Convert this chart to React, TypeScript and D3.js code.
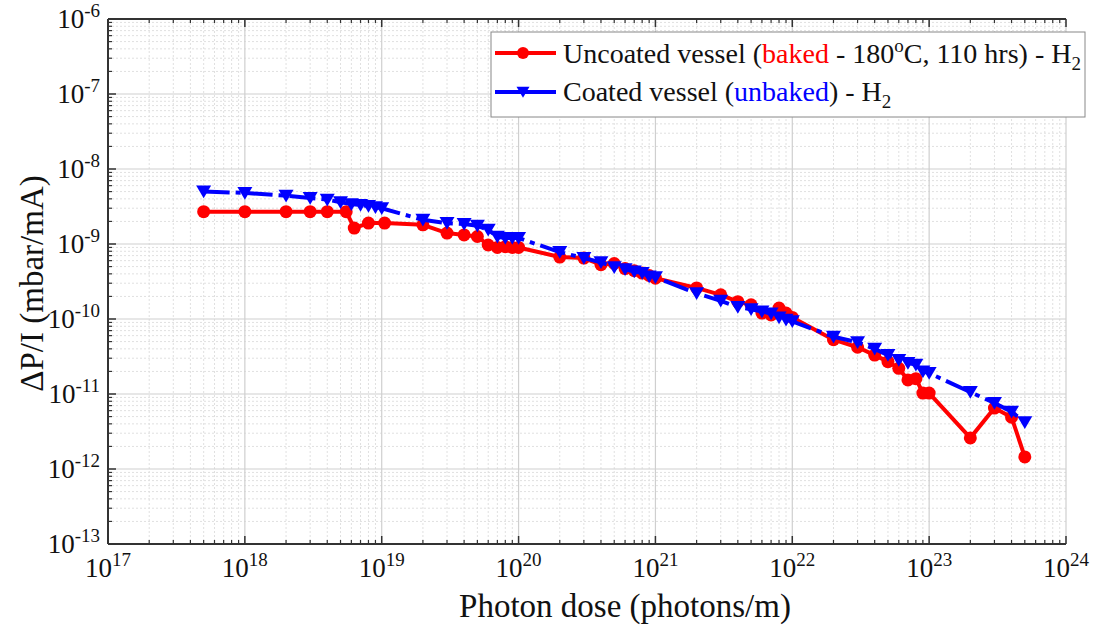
import React from "react";
import * as d3 from "d3";

const redX = [5e17,1e18,2e18,3e18,4e18,5.5e18,6.3e18,8e18,1.05e19,2e19,3e19,4e19,5e19,6e19,7e19,8e19,9e19,1e20,2e20,3e20,4e20,5e20,6e20,7e20,8e20,9e20,1e21,2e21,3e21,4e21,5e21,6e21,7e21,8e21,9e21,1e22,2e22,3e22,4e22,5e22,6e22,7e22,8e22,9e22,1e23,2e23,3e23,4e23,5e23];
const redY = [2.7e-9,2.7e-9,2.7e-9,2.7e-9,2.7e-9,2.7e-9,1.63e-9,1.9e-9,1.9e-9,1.8e-9,1.4e-9,1.32e-9,1.26e-9,0.97e-9,0.9e-9,0.92e-9,0.9e-9,0.9e-9,6.7e-10,6.5e-10,5.3e-10,5.5e-10,4.7e-10,4.4e-10,4.1e-10,3.8e-10,3.5e-10,2.6e-10,2.1e-10,1.7e-10,1.55e-10,1.2e-10,1.13e-10,1.4e-10,1.2e-10,1.05e-10,5.3e-11,4.2e-11,3.3e-11,2.7e-11,2.2e-11,1.54e-11,1.6e-11,1.03e-11,1.03e-11,2.6e-12,6.5e-12,4.9e-12,1.45e-12];

const blueX = [5e17,1e18,2e18,3e18,4e18,5e18,6e18,7e18,8e18,9e18,1e19,2e19,3e19,4e19,5e19,6e19,7e19,8e19,9e19,1e20,2e20,3e20,4e20,5e20,6e20,7e20,8e20,9e20,1e21,2e21,3e21,4e21,5e21,6e21,7e21,8e21,9e21,1e22,2e22,3e22,4e22,5e22,6e22,7e22,8e22,9e22,1e23,2e23,3e23,4e23,5e23];
const blueY = [5e-9,4.8e-9,4.4e-9,4.1e-9,3.9e-9,3.6e-9,3.4e-9,3.3e-9,3.2e-9,3.1e-9,3.0e-9,2.1e-9,1.9e-9,1.85e-9,1.75e-9,1.55e-9,1.25e-9,1.2e-9,1.2e-9,1.2e-9,7.8e-10,6.5e-10,5.7e-10,4.9e-10,4.6e-10,4.3e-10,4.1e-10,3.7e-10,3.6e-10,2.2e-10,1.75e-10,1.44e-10,1.35e-10,1.26e-10,1.18e-10,1.05e-10,0.98e-10,0.93e-10,5.8e-11,4.9e-11,4e-11,3.3e-11,2.85e-11,2.6e-11,2.45e-11,2.0e-11,1.9e-11,1.06e-11,7.6e-12,5.8e-12,4.2e-12];

const xExps = [17,18,19,20,21,22,23,24];
const yExps = [-6,-7,-8,-9,-10,-11,-12,-13];

const L = 108, R = 1066, T = 19, B = 544;
const FONT = "'Liberation Serif', 'Times New Roman', serif";
const DASH = "26,6,5,6";

export default function App() {
  const x = d3.scaleLog().domain([1e17, 1e24]).range([L, R]);
  const y = d3.scaleLog().domain([1e-13, 1e-6]).range([B, T]);

  const minorX: number[] = [];
  for (let e = 17; e < 24; e++) for (let m = 2; m <= 9; m++) minorX.push(m * Math.pow(10, e));
  const minorY: number[] = [];
  for (let e = -13; e < -6; e++) for (let m = 2; m <= 9; m++) minorY.push(m * Math.pow(10, e));

  const line = d3.line<[number, number]>().x(d => x(d[0])).y(d => y(d[1]));
  const redPts = redX.map((v, i) => [v, redY[i]] as [number, number]);
  const bluePts = blueX.map((v, i) => [v, blueY[i]] as [number, number]);

  const tri = (cx: number, cy: number, s = 7.5) =>
    `M${cx - s},${cy - s * 0.8}L${cx + s},${cy - s * 0.8}L${cx},${cy + s * 0.9}Z`;

  return (
    <div style={{ position: "absolute", left: 0, top: 0 }}>
      <svg width={1099} height={625} style={{ display: "block", background: "#fff" }} fontFamily={FONT}>
        {minorX.map((v, i) => (
          <line key={"mx" + i} x1={x(v)} x2={x(v)} y1={T} y2={B} stroke="#e0e0e0" strokeWidth={1} strokeDasharray="2,2" />
        ))}
        {minorY.map((v, i) => (
          <line key={"my" + i} x1={L} x2={R} y1={y(v)} y2={y(v)} stroke="#e0e0e0" strokeWidth={1} strokeDasharray="2,2" />
        ))}
        {xExps.map(e => (
          <line key={"gx" + e} x1={x(Math.pow(10, e))} x2={x(Math.pow(10, e))} y1={T} y2={B} stroke="#cfcfcf" strokeWidth={1.2} />
        ))}
        {yExps.map(e => (
          <line key={"gy" + e} x1={L} x2={R} y1={y(Math.pow(10, e))} y2={y(Math.pow(10, e))} stroke="#cfcfcf" strokeWidth={1.2} />
        ))}
        <line x1={L} x2={R} y1={B} y2={B} stroke="#333" strokeWidth={2} />
        <line x1={L} x2={R} y1={T} y2={T} stroke="#333" strokeWidth={2} />
        <line x1={L} x2={L} y1={T} y2={B} stroke="#333" strokeWidth={2} />
        {xExps.map(e => (
          <g key={"tx" + e}>
            <line x1={x(Math.pow(10, e))} x2={x(Math.pow(10, e))} y1={B} y2={B - 8} stroke="#333" strokeWidth={1.5} />
            <line x1={x(Math.pow(10, e))} x2={x(Math.pow(10, e))} y1={T} y2={T + 8} stroke="#333" strokeWidth={1.5} />
          </g>
        ))}
        {minorX.map((v, i) => (
          <g key={"tmx" + i}>
            <line x1={x(v)} x2={x(v)} y1={B} y2={B - 4} stroke="#333" strokeWidth={1.2} />
            <line x1={x(v)} x2={x(v)} y1={T} y2={T + 4} stroke="#333" strokeWidth={1.2} />
          </g>
        ))}
        {yExps.map(e => (
          <line key={"ty" + e} x1={L} x2={L + 8} y1={y(Math.pow(10, e))} y2={y(Math.pow(10, e))} stroke="#333" strokeWidth={1.5} />
        ))}
        {minorY.map((v, i) => (
          <line key={"tmy" + i} x1={L} x2={L + 4} y1={y(v)} y2={y(v)} stroke="#333" strokeWidth={1.2} />
        ))}
        {xExps.map(e => (
          <text key={"lx" + e} x={x(Math.pow(10, e))} y={577} textAnchor="middle" fontSize={27} fill="#111">
            10<tspan dy={-11} fontSize={19}>{e}</tspan>
          </text>
        ))}
        {yExps.map(e => (
          <text key={"ly" + e} x={100} y={y(Math.pow(10, e)) + 9} textAnchor="end" fontSize={27} fill="#111">
            10<tspan dy={-11} fontSize={19}>{e}</tspan>
          </text>
        ))}
        <text x={(L + R) / 2 + 38} y={617} textAnchor="middle" fontSize={33} fill="#111">Photon dose (photons/m)</text>
        <text transform={`translate(43,${(T + B) / 2 + 2}) rotate(-90)`} textAnchor="middle" fontSize={33} fill="#111">ΔP/I (mbar/mA)</text>

        <path d={line(redPts) || ""} fill="none" stroke="#ff0000" strokeWidth={4} strokeLinejoin="round" />
        {redPts.map((p, i) => (
          <circle key={"rc" + i} cx={x(p[0])} cy={y(p[1])} r={6.5} fill="#ff0000" />
        ))}
        <path d={line(bluePts) || ""} fill="none" stroke="#0000ff" strokeWidth={4} strokeDasharray={DASH} />
        {bluePts.map((p, i) => (
          <path key={"bt" + i} d={tri(x(p[0]), y(p[1]))} fill="#0000ff" />
        ))}

        <rect x={491} y={32} width={594} height={85} fill="#fff" stroke="#888" strokeWidth={1} />
        <line x1={495} x2={556} y1={53} y2={53} stroke="#ff0000" strokeWidth={4} />
        <circle cx={523} cy={53} r={6} fill="#ff0000" />
        <text x={563} y={63} fontSize={28} fill="#111">
          Uncoated vessel (<tspan fill="#ff0000">baked</tspan> - 180<tspan dy={-11} fontSize={19}>o</tspan><tspan dy={11}>C, 110 hrs) - H</tspan><tspan dy={7} fontSize={19}>2</tspan>
        </text>
        <line x1={495} x2={556} y1={92} y2={92} stroke="#0000ff" strokeWidth={4} />
        <path d={tri(523, 92, 6.5)} fill="#0000ff" />
        <text x={563} y={101} fontSize={28} fill="#111">
          Coated vessel (<tspan fill="#0000ff">unbaked</tspan>) - H<tspan dy={7} fontSize={19}>2</tspan>
        </text>
      </svg>
    </div>
  );
}
